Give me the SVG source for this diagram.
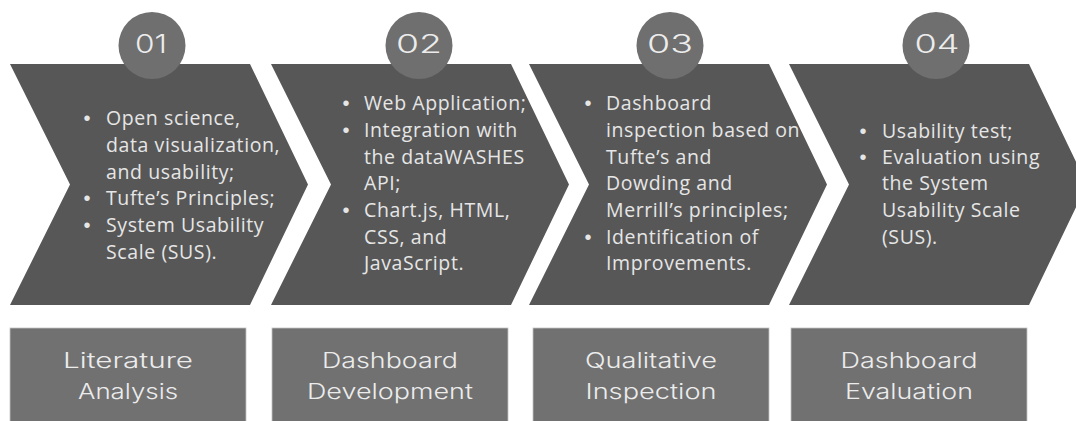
<svg xmlns="http://www.w3.org/2000/svg" width="1076" height="421" viewBox="0 0 1076 421">
<style>
.chev{fill:#575757}
.circ{fill:#6f6f6f}
.box{fill:#717171;stroke:#c4c4c4;stroke-width:0.8}
.num{font-family:Inter,"Liberation Sans",sans-serif;font-size:25px;font-weight:300;fill:#ececec;text-anchor:middle}
.bul{font-family:"Open Sans","Noto Sans",sans-serif;font-size:19.5px;fill:#e6e6e6;letter-spacing:0.6px}
.dot{font-family:"Liberation Sans",Arial,sans-serif;font-size:20px;fill:#e6e6e6;text-anchor:middle}
.lab{font-family:Inter,"Liberation Sans",sans-serif;font-size:21px;font-weight:300;fill:#ececec;text-anchor:middle}
</style>
<rect width="1076" height="421" fill="#ffffff"/>
<g id="step1">
<polygon class="chev" points="10,64 250,64 308,184.5 250,305 10,305 70,184.5"/>
<circle class="circ" cx="152" cy="45.5" r="33.5"/>
<text class="num" x="151" y="53" textLength="32" lengthAdjust="spacingAndGlyphs">01</text>
<text class="dot" x="87" y="125">•</text>
<text class="dot" x="87" y="205">•</text>
<text class="dot" x="87" y="232">•</text>
<g class="bul">
<text x="106" y="125">Open science,</text>
<text x="106" y="152">data visualization,</text>
<text x="106" y="179">and usability;</text>
<text x="106" y="205">Tufte’s Principles;</text>
<text x="106" y="232">System Usability</text>
<text x="106" y="259">Scale (SUS).</text>
</g>
<rect class="box" x="10" y="328" width="236" height="94"/>
<text class="lab" x="128" y="368" textLength="130" lengthAdjust="spacingAndGlyphs">Literature</text>
<text class="lab" x="128" y="399" textLength="100" lengthAdjust="spacingAndGlyphs">Analysis</text>
</g>
<g id="step2">
<polygon class="chev" points="271,64 511,64 569,184.5 511,305 271,305 331,184.5"/>
<circle class="circ" cx="419" cy="45.5" r="33.5"/>
<text class="num" x="419" y="53" textLength="46" lengthAdjust="spacingAndGlyphs">02</text>
<text class="dot" x="346" y="110">•</text>
<text class="dot" x="346" y="137">•</text>
<text class="dot" x="346" y="217">•</text>
<g class="bul">
<text x="364" y="110">Web Application;</text>
<text x="364" y="137">Integration with</text>
<text x="364" y="164">the dataWASHES</text>
<text x="364" y="190">API;</text>
<text x="364" y="217">Chart.js, HTML,</text>
<text x="364" y="244">CSS, and</text>
<text x="364" y="270">JavaScript.</text>
</g>
<rect class="box" x="272" y="328" width="236" height="94"/>
<text class="lab" x="390" y="368" textLength="136" lengthAdjust="spacingAndGlyphs">Dashboard</text>
<text class="lab" x="390" y="399" textLength="166" lengthAdjust="spacingAndGlyphs">Development</text>
</g>
<g id="step3">
<polygon class="chev" points="529,64 769,64 827,184.5 769,305 529,305 589,184.5"/>
<circle class="circ" cx="670" cy="45.5" r="33.5"/>
<text class="num" x="670" y="53" textLength="46" lengthAdjust="spacingAndGlyphs">03</text>
<text class="dot" x="588" y="110">•</text>
<text class="dot" x="588" y="244">•</text>
<g class="bul">
<text x="606" y="110">Dashboard</text>
<text x="606" y="137">inspection based on</text>
<text x="606" y="164">Tufte’s and</text>
<text x="606" y="190">Dowding and</text>
<text x="606" y="217">Merrill’s principles;</text>
<text x="606" y="244">Identification of</text>
<text x="606" y="270">Improvements.</text>
</g>
<rect class="box" x="533" y="328" width="236" height="94"/>
<text class="lab" x="651" y="368" textLength="132" lengthAdjust="spacingAndGlyphs">Qualitative</text>
<text class="lab" x="651" y="399" textLength="131" lengthAdjust="spacingAndGlyphs">Inspection</text>
</g>
<g id="step4">
<polygon class="chev" points="789,64 1029,64 1087,184.5 1029,305 789,305 849,184.5"/>
<circle class="circ" cx="936" cy="45.5" r="33.5"/>
<text class="num" x="937" y="53" textLength="45" lengthAdjust="spacingAndGlyphs">04</text>
<text class="dot" x="863" y="138">•</text>
<text class="dot" x="863" y="164">•</text>
<g class="bul">
<text x="882" y="138">Usability test;</text>
<text x="882" y="164">Evaluation using</text>
<text x="882" y="190">the System</text>
<text x="882" y="217">Usability Scale</text>
<text x="882" y="244">(SUS).</text>
</g>
<rect class="box" x="791" y="328" width="236" height="94"/>
<text class="lab" x="909" y="368" textLength="137" lengthAdjust="spacingAndGlyphs">Dashboard</text>
<text class="lab" x="909" y="399" textLength="128" lengthAdjust="spacingAndGlyphs">Evaluation</text>
</g>
<g id="connectors"></g>
</svg>
